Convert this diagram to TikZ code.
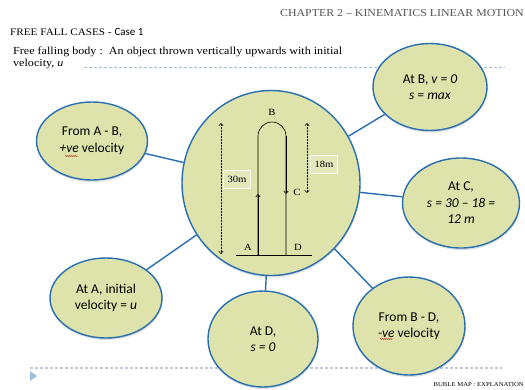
\documentclass[tikz,border=0pt]{standalone}
\usepackage{fontspec}
\setmainfont{Liberation Serif}
\newfontfamily\camb[FakeStretch=1.12]{Liberation Serif}
\newfontfamily\calib{Carlito}
\usetikzlibrary{shapes.geometric,arrows.meta,shadows,decorations.pathmorphing}
\definecolor{bubfill}{RGB}{221,227,170}
\definecolor{bubline}{RGB}{40,110,178}
\definecolor{dashblue}{RGB}{160,190,220}
\definecolor{dashgray}{RGB}{190,200,215}
\definecolor{hdrgray}{RGB}{85,85,85}
\tikzset{
  bubble/.style={ellipse, draw=bubline, line width=1.4pt, fill=bubfill, inner sep=0pt,
    align=center, font=\calib\fontsize{13.5}{16.5}\selectfont,
    drop shadow={opacity=0.25, shadow xshift=0.5pt, shadow yshift=-2pt}},
  link/.style={draw=bubline, line width=1.4pt},
  lbl/.style={font=\camb\fontsize{9.5}{11}\selectfont, inner sep=1pt},
  valbox/.style={draw=white!80!bubfill, line width=1pt, fill=white!20!bubfill, font=\camb\fontsize{9.5}{11}\selectfont, inner sep=0pt, minimum width=27pt, minimum height=18pt},
  barb/.style={-{Straight Barb[length=2.5pt,width=4.5pt]}},
  dimline/.style={dashed, dash pattern=on 2pt off 1pt, line width=0.5pt, {Straight Barb[length=2.5pt,width=4.5pt]}-{Straight Barb[length=2.5pt,width=4.5pt]}},
  squig/.style={draw=red!80!black, line width=0.4pt, decorate, decoration={snake, amplitude=0.5pt, segment length=2pt}}
}
\begin{document}
\begin{tikzpicture}[x=1pt,y=-1pt]
\useasboundingbox (0,0) rectangle (525,389);
\fill[white] (0,0) rectangle (525,389);

% headers
\node[anchor=east, text=hdrgray, font=\camb\fontsize{10.6}{13}\selectfont, inner sep=0pt] (chap) at (524,13) {CHAPTER 2 – KINEMATICS LINEAR MOTION};
\node[anchor=west, font=\camb\fontsize{10}{12}\selectfont, inner sep=0pt] (title) at (10,32) {FREE FALL CASES - {\calib\fontsize{11}{12}\selectfont Case 1}};
\node[anchor=north west, align=left, font=\camb\fontsize{10.8}{12}\selectfont, inner sep=0pt] (intro) at (13,47) {Free falling body :\ \ An object thrown vertically upwards with initial\\velocity, \textit{u}};
\coordinate (d1) at (84,67);
\coordinate (d2) at (505,67);
\draw[dashblue, dashed, dash pattern=on 3pt off 2pt, line width=0.6pt] (d1) -- (d2);

% bottom
\coordinate (b1) at (30,368);
\coordinate (b2) at (502,368);
\draw[dashgray, dash pattern=on 3pt off 2pt, line width=1.3pt] (b1) -- (b2);
\fill[dashblue] (30,371) -- (37,376) -- (30,381) -- cycle;
\node[anchor=east, font=\camb\fontsize{6}{7}\selectfont, inner sep=0pt] (foot) at (524,385) {BUBLE MAP : EXPLANATION};

% central circle
\node[bubble, minimum width=178pt, minimum height=185pt] (c) at (271,183) {};

% satellites
\node[bubble, minimum width=111pt, minimum height=78pt] (s1) at (92,141) {From A - B,\\\textit{+ve} velocity};
\node[bubble, minimum width=114pt, minimum height=87pt] (s2) at (430,87) {At B, \textit{v = 0}\\\textit{s = max}};
\node[bubble, minimum width=117pt, minimum height=90pt] (s3) at (461,203) {At C,\\\textit{s = 30 – 18 =}\\\textit{12 m}};
\node[bubble, minimum width=112pt, minimum height=80pt] (s4) at (106,298) {At A, initial\\velocity = \textit{u}};
\node[bubble, minimum width=110pt, minimum height=96pt] (s5) at (263,339) {At D,\\\textit{s = 0}};
\node[bubble, minimum width=112pt, minimum height=98pt] (s6) at (409,326) {From B - D,\\\textit{-ve} velocity};

\foreach \s in {s1,s2,s3,s4,s5,s6} \draw[link] (\s) -- (c);

% spell check squiggles
\draw[squig] (65,156) -- (78,156);
\draw[squig] (380,339) -- (393,339);

% inner drawing
\coordinate (g1) at (236,255);
\coordinate (g2) at (312,255);
\draw[line width=0.6pt] (g1) -- (g2);
\coordinate (la) at (258,255);
\coordinate (lm) at (258,194);
\coordinate (lt) at (258,136);
\coordinate (ra) at (286,255);
\coordinate (rm) at (286,194);
\coordinate (rt) at (286,136);
\draw[line width=0.6pt] (la) -- (lt) arc[start angle=180, end angle=0, radius=14pt] -- (ra);
\draw[line width=0.6pt, barb] (la) -- (lm);
\draw[line width=0.6pt, barb] (rt) -- (rm);
\node[lbl] (B) at (272,112) {B};
\node[lbl] (A) at (248,247) {A};
\node[lbl] (D) at (298,247) {D};
\node[lbl] (C) at (297,192) {C};
\coordinate (h1) at (221,123);
\coordinate (h2) at (221,254);
\draw[dimline] (h1) -- (h2);
\coordinate (k1) at (307,123);
\coordinate (k2) at (307,193);
\draw[dimline] (k1) -- (k2);
\node[valbox] (v30) at (237,179) {30m};
\node[valbox] (v18) at (324,164) {18m};
\end{tikzpicture}
\end{document}
